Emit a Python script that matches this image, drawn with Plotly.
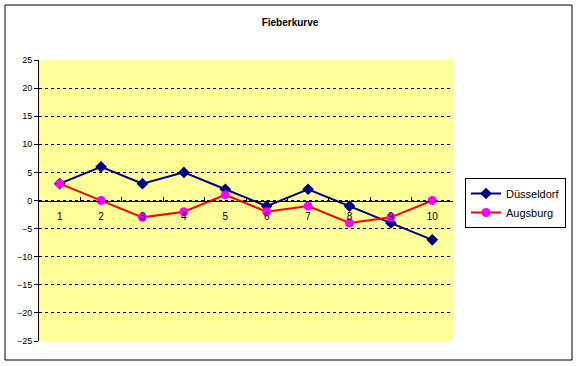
import plotly.graph_objects as go

days = ["1", "2", "3", "4", "5", "6", "7", "8", "9", "10"]
duesseldorf = [3, 6, 3, 5, 2, -1, 2, -1, -4, -7]
augsburg = [3, 0, -3, -2, 1, -2, -1, -4, -3, 0]
y_ticks = [-25, -20, -15, -10, -5, 0, 5, 10, 15, 20, 25]

W, H = 578, 366
L, R, T, B = 39, 453, 60, 341
pw, ph = R - L, B - T

def px(x):
    return (x - L) / pw

def py(y):
    return (B - y) / ph

fig = go.Figure()
fig.add_trace(go.Scatter(
    x=days, y=duesseldorf, name="Düsseldorf", mode="lines+markers",
    line=dict(color="#000080", width=2),
    marker=dict(symbol="diamond", size=9, color="#000080"),
))
fig.add_trace(go.Scatter(
    x=days, y=augsburg, name="Augsburg", mode="lines+markers",
    line=dict(color="#FF0000", width=2),
    marker=dict(symbol="circle", size=9, color="#FF00FF"),
))

fig.update_layout(
    width=W, height=H,
    margin=dict(l=L, r=W - R, t=T, b=H - B, pad=0),
    paper_bgcolor="white",
    plot_bgcolor="#FFFF99",
    font=dict(family="Liberation Sans, Arial, sans-serif", size=9, color="black"),
    title=dict(text="<b>Fieberkurve</b>", x=290 / W, xanchor="center",
               y=1 - 22 / H, yanchor="middle", font=dict(size=10)),
    showlegend=True,
    legend=dict(x=px(465), y=py(178), xanchor="left", yanchor="top",
                bordercolor="black", borderwidth=1, bgcolor="white",
                font=dict(size=11), tracegroupgap=2),
    xaxis=dict(type="category", range=[-0.5, 9.5], anchor="free", position=0.5,
               showline=True, linecolor="black", linewidth=1,
               ticks="inside", ticklen=4, tickcolor="black", tickson="boundaries",
               showgrid=False, zeroline=False, ticklabelstandoff=6,
               tickfont=dict(size=10)),
    yaxis=dict(range=[-25, 25], tickvals=y_ticks, showline=True, linecolor="black",
               linewidth=1, ticks="outside", ticklen=4, tickcolor="black",
               showgrid=True, gridcolor="black", griddash="3px,3px", gridwidth=1,
               zeroline=False, tickfont=dict(size=9)),
    shapes=[
        dict(type="rect", xref="paper", yref="paper",
             x0=px(5), x1=px(572), y0=py(5), y1=py(360),
             line=dict(color="black", width=1), fillcolor="rgba(0,0,0,0)",
             layer="below"),
    ],
)

fig.write_html("out.html", config={"displayModeBar": False},
               post_script="document.body.style.margin='0';")
